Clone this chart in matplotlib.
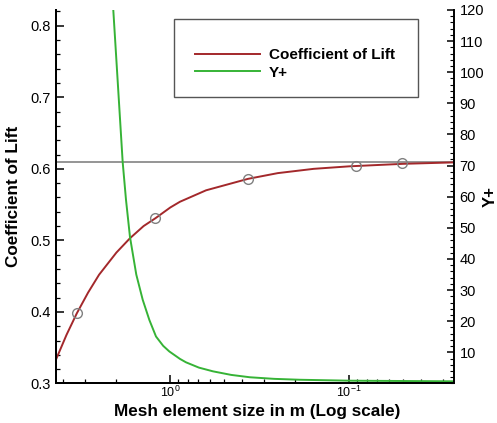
import matplotlib
matplotlib.use("Agg")
import matplotlib.pyplot as plt
import matplotlib.ticker as mticker
from matplotlib.patches import Rectangle
import numpy as np

plt.rcParams['font.family'] = ['Liberation Sans', 'DejaVu Sans']
plt.rcParams['mathtext.fontset'] = 'custom'
plt.rcParams['mathtext.rm'] = 'Liberation Sans'
plt.rcParams['mathtext.it'] = 'Liberation Sans:italic'
plt.rcParams['mathtext.bf'] = 'Liberation Sans:bold'

# mesh size (m) of the simulated cases and their lift coefficient
mesh_size = [3.33, 1.21, 0.367, 0.092, 0.051]
cl_points = [0.398, 0.531, 0.586, 0.604, 0.608]

# fitted lift curve
cl_x = [4.35, 3.80, 3.33, 2.88, 2.50, 2.00, 1.68, 1.41, 1.21, 1.00, 0.883,
        0.631, 0.368, 0.251, 0.158, 0.100, 0.050, 0.026]
cl_y = [0.3335, 0.368, 0.398, 0.427, 0.452, 0.483, 0.503, 0.520, 0.531, 0.546, 0.554,
        0.570, 0.586, 0.594, 0.600, 0.6035, 0.607, 0.609]

# Y+ curve
yplus_x = [2.082, 1.845, 1.768, 1.680, 1.549, 1.426, 1.309, 1.202, 1.096, 1.013,
           0.883, 0.817, 0.692, 0.577, 0.457, 0.359, 0.263, 0.189, 0.100, 0.026]
yplus_y = [120, 71.1, 59.0, 47.1, 35.0, 26.9, 20.4, 15.1, 12.1, 10.3,
           7.9, 6.8, 5.1, 3.9, 2.76, 2.0, 1.49, 1.2, 0.9, 0.7]

cl_converged = 0.61

red = '#a3282b'
green = '#36b336'

fig = plt.figure(figsize=(4.97, 4.23), dpi=100)
ax = fig.add_axes([0.1127, 0.0934, 0.8008, 0.883])
ax2 = ax.twinx()

ax.axhline(cl_converged, color='#8c8c8c', lw=1.3, zorder=1)
l1, = ax.plot(cl_x, cl_y, color=red, lw=1.4, label='Coefficient of Lift', zorder=3)
ax.plot(mesh_size, cl_points, 'o', ms=7, mfc='none', mec='#808080', mew=1.0, zorder=4)
l2, = ax2.plot(yplus_x, yplus_y, color=green, lw=1.4, label='Y+')

ax.set_xscale('log')
ax.set_xlim(4.35, 0.026)
ax.set_ylim(0.3, 0.822)
ax2.set_ylim(0, 120)

ax.yaxis.set_major_locator(mticker.MultipleLocator(0.1))
ax.yaxis.set_minor_locator(mticker.MultipleLocator(0.02))
ax.yaxis.set_major_formatter(mticker.FormatStrFormatter('%.1f'))
ax.xaxis.set_minor_formatter(mticker.NullFormatter())
ax2.yaxis.set_major_locator(mticker.FixedLocator(np.arange(10, 121, 10)))
ax2.yaxis.set_minor_locator(mticker.MultipleLocator(2))

ax.tick_params(which='major', direction='in', length=5.5, width=1.1, labelsize=10.5, pad=4)
ax.tick_params(which='minor', direction='in', length=3.2, width=0.9)
ax.tick_params(axis='x', which='major', labelsize=9, pad=1)
ax.tick_params(top=False, right=False, which='both')
ax2.tick_params(which='major', direction='in', length=5, width=1.1, labelsize=10.5, pad=4)
ax2.tick_params(which='minor', direction='in', length=2.8, width=0.8)

for a in (ax, ax2):
    a.spines['top'].set_visible(False)
    for s in a.spines.values():
        s.set_linewidth(1.4)
ax.spines['right'].set_visible(False)

ax.set_xlabel('Mesh element size in m (Log scale)', fontsize=12.3, fontweight='bold')
ax.set_ylabel('Coefficient of Lift', fontsize=12.3, fontweight='bold')
ax2.set_ylabel('Y+', fontsize=12, fontweight='bold', rotation=90)
ax.xaxis.set_label_coords(0.506, -0.056)
ax.yaxis.set_label_coords(-0.088, 0.5)
ax2.yaxis.set_label_coords(1.073, 0.5)

# legend box
ax2.add_patch(Rectangle((0.2965, 0.767), 0.613, 0.209, transform=ax2.transAxes,
                        fill=False, ec='#555555', lw=1.0, zorder=5))
ax2.legend([l1, l2], ['Coefficient of Lift', 'Y+'], loc='center left',
           bbox_to_anchor=(0.329, 0.856), frameon=False, borderpad=0,
           handlelength=4.3, handletextpad=0.55, labelspacing=0.25,
           prop={'weight': 'bold', 'size': 11})

fig.savefig('out.png', dpi=100)
